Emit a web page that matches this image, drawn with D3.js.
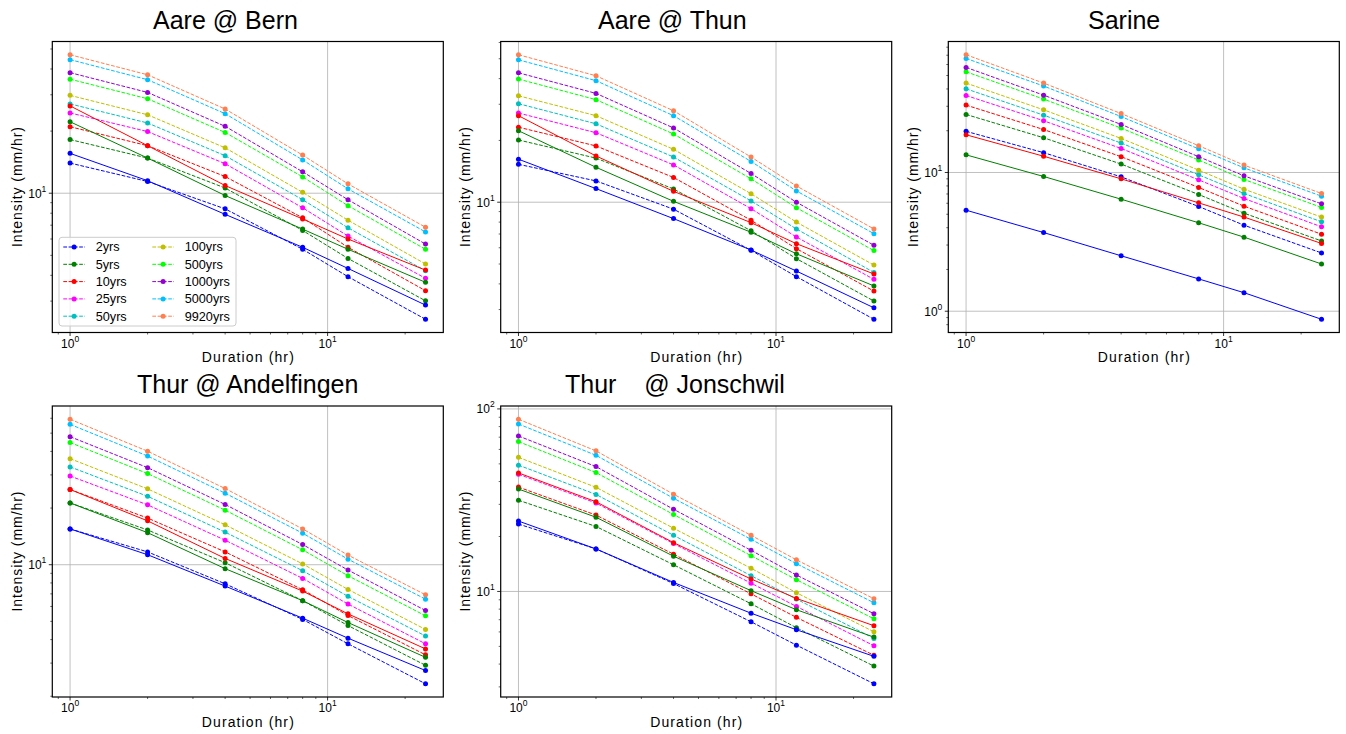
<!DOCTYPE html>
<html><head><meta charset="utf-8">
<script src="https://cdn.jsdelivr.net/npm/d3@7"></script>
<style>
body{margin:0;background:#fff;}
svg{display:block;font-family:"Liberation Sans",Arial,sans-serif;}
</style></head>
<body><svg id="c" width="1346" height="734"></svg>
<script>
const durations = [1, 2, 4, 8, 12, 24];
const returnPeriods = ["2yrs","5yrs","10yrs","25yrs","50yrs","100yrs","500yrs","1000yrs","5000yrs","9920yrs"];
const seriesColors = ["#0000ff","#008000","#ff0000","#ff00ff","#00bfbf","#bfbf00","#00ff00","#9400d3","#00bfff","#ff7f50"];
const solidColors = ["#0000ff","#008000","#ff0000"];
const titles = ["Aare @ Bern","Aare @ Thun","Sarine","Thur @ Andelfingen","Thur    @ Jonschwil"];

const bern = [
  [14.0, 11.4, 8.4, 5.35, 3.94, 2.45],
  [18.2, 14.8, 10.6, 6.6, 4.83, 3.01],
  [21.0, 17.0, 12.05, 7.6, 5.47, 3.37],
  [24.5, 19.9, 13.9, 8.5, 6.2, 3.87],
  [27.1, 21.9, 15.2, 9.3, 6.8, 4.21],
  [29.8, 24.0, 16.6, 10.1, 7.4, 4.54],
  [35.7, 28.7, 19.7, 12.0, 8.7, 5.35],
  [38.4, 30.8, 21.1, 12.7, 9.3, 5.67],
  [44.4, 35.5, 24.3, 14.5, 10.5, 6.49],
  [46.9, 37.5, 25.6, 15.3, 11.1, 6.84]
];
const bernSolid = [
  [15.6, 11.5, 7.9, 5.47, 4.32, 2.87],
  [22.2, 14.8, 9.75, 6.7, 5.35, 3.70],
  [26.5, 17.0, 10.9, 7.5, 6.0, 4.24]
];
const thun = [
  [15.3, 12.7, 9.25, 5.83, 4.34, 2.69],
  [20.1, 16.4, 11.6, 7.26, 5.31, 3.30],
  [23.2, 18.8, 13.2, 8.17, 5.94, 3.69],
  [27.2, 21.8, 15.2, 9.3, 6.77, 4.21],
  [30.2, 24.1, 16.6, 10.15, 7.41, 4.55],
  [33.0, 26.4, 18.1, 11.0, 8.0, 4.94],
  [39.8, 31.6, 21.5, 13.0, 9.4, 5.81],
  [42.7, 33.9, 23.0, 13.8, 10.0, 6.17],
  [49.4, 39.1, 26.4, 15.8, 11.35, 7.03],
  [52.3, 41.3, 27.9, 16.6, 12.0, 7.41]
];
const thunSolid = [
  [16.2, 11.65, 8.32, 5.85, 4.62, 3.06],
  [22.3, 14.8, 10.1, 7.14, 5.61, 3.91],
  [26.4, 16.8, 11.3, 7.95, 6.28, 4.47]
];
const sarine = [
  [19.8, 13.9, 9.3, 5.69, 4.17, 2.63],
  [26.2, 17.8, 11.5, 6.94, 5.09, 3.21],
  [30.6, 20.4, 13.0, 7.8, 5.72, 3.59],
  [35.9, 23.6, 14.9, 8.85, 6.49, 4.06],
  [40.1, 25.9, 16.3, 9.62, 7.06, 4.41],
  [44.1, 28.3, 17.6, 10.4, 7.58, 4.77],
  [53.2, 33.8, 20.9, 12.3, 8.9, 5.6],
  [57.2, 36.1, 22.2, 13.0, 9.46, 5.94],
  [66.4, 42.0, 25.3, 14.8, 10.8, 6.75],
  [70.6, 44.1, 26.6, 15.6, 11.3, 7.06]
];
const sarineSolid = [
  [5.35, 3.69, 2.51, 1.71, 1.36, 0.875],
  [13.4, 9.36, 6.42, 4.34, 3.42, 2.19],
  [18.7, 13.1, 9.0, 6.04, 4.77, 3.08]
];
const andelfingen = [
  [15.5, 11.7, 7.92, 5.12, 3.80, 2.33],
  [21.3, 15.3, 10.25, 6.44, 4.75, 2.92],
  [25.1, 17.7, 11.7, 7.36, 5.37, 3.32],
  [29.6, 20.8, 13.5, 8.46, 6.18, 3.80],
  [33.1, 23.1, 14.9, 9.29, 6.79, 4.18],
  [36.6, 25.3, 16.3, 10.1, 7.39, 4.53],
  [44.6, 30.5, 19.5, 12.0, 8.74, 5.35],
  [47.9, 32.8, 20.9, 12.8, 9.37, 5.71],
  [55.7, 37.8, 24.0, 14.7, 10.7, 6.56],
  [59.3, 40.1, 25.4, 15.5, 11.25, 6.92]
];
const andelfingenSolid = [
  [15.5, 11.3, 7.7, 5.2, 4.07, 2.74],
  [21.3, 14.8, 9.53, 6.44, 4.93, 3.22],
  [25.1, 17.1, 10.8, 7.24, 5.48, 3.57]
];
const jonschwil = [
  [23.4, 17.1, 11.05, 6.82, 5.08, 3.12],
  [31.6, 22.7, 14.0, 8.56, 6.33, 3.90],
  [37.3, 26.2, 16.0, 9.7, 7.21, 4.47],
  [43.9, 30.5, 18.3, 11.1, 8.28, 5.04],
  [49.2, 34.0, 20.3, 12.2, 9.08, 5.53],
  [54.3, 37.2, 22.2, 13.4, 9.84, 6.01],
  [66.2, 44.8, 26.4, 15.7, 11.6, 7.08],
  [71.1, 48.3, 28.2, 16.8, 12.3, 7.55],
  [82.7, 55.7, 32.4, 19.3, 14.2, 8.67],
  [87.8, 58.9, 34.1, 20.3, 14.9, 9.12]
];
const jonschwilSolid = [
  [24.3, 17.1, 11.2, 7.6, 6.17, 4.41],
  [36.4, 25.5, 15.6, 10.1, 7.94, 5.62],
  [44.6, 31.0, 18.5, 11.7, 9.16, 6.49]
];

const svg = d3.select("#c");
const colLeft = [52.3, 500.7, 948.3], rowTop = [41.5, 406];
const PW = 391, PH = 291;
const titleX = [153, 598, 1088, 137, 565];
const panels = [
  {dashed: bern, solid: bernSolid, c:0, r:0, legend:true},
  {dashed: thun, solid: thunSolid, c:1, r:0},
  {dashed: sarine, solid: sarineSolid, c:2, r:0},
  {dashed: andelfingen, solid: andelfingenSolid, c:0, r:1},
  {dashed: jonschwil, solid: jonschwilSolid, c:1, r:1}
];

function logPad(lo, hi){
  const a = Math.log10(lo), b = Math.log10(hi), m = (b - a) * 0.05;
  return [Math.pow(10, a - m), Math.pow(10, b + m)];
}
function powLabel(sel, exp){
  sel.append("tspan").text("10");
  sel.append("tspan").attr("dy", -6).attr("font-size", 8.5).text(exp);
}
function logTicks(dom){
  const major = [], minor = [];
  const lo = Math.floor(Math.log10(dom[0])) , hi = Math.ceil(Math.log10(dom[1]));
  for (let e = lo; e <= hi; e++) {
    for (let k = 1; k < 10; k++) {
      const v = k * Math.pow(10, e);
      if (v < dom[0] || v > dom[1]) continue;
      if (k === 1) major.push({v, e}); else minor.push(v);
    }
  }
  return {major, minor};
}

panels.forEach((p, i) => {
  const x0 = colLeft[p.c], y0 = rowTop[p.r];
  const g = svg.append("g").attr("transform", `translate(${x0},${y0})`);
  const all = p.dashed.flat().concat(p.solid.flat());
  const xDom = logPad(d3.min(durations), d3.max(durations));
  const yDom = logPad(d3.min(all), d3.max(all));
  const xs = d3.scaleLog().domain(xDom).range([0, PW]);
  const ys = d3.scaleLog().domain(yDom).range([PH, 0]);
  const xt = logTicks(xDom), yt = logTicks(yDom);

  g.selectAll(".gx").data(xt.major).enter().append("line")
    .attr("x1", d => xs(d.v)).attr("x2", d => xs(d.v)).attr("y1", 0).attr("y2", PH)
    .attr("stroke", "#b0b0b0").attr("stroke-width", 0.8);
  g.selectAll(".gy").data(yt.major).enter().append("line")
    .attr("y1", d => ys(d.v)).attr("y2", d => ys(d.v)).attr("x1", 0).attr("x2", PW)
    .attr("stroke", "#b0b0b0").attr("stroke-width", 0.8);

  const line = d3.line().x((d, j) => xs(durations[j])).y(d => ys(d));
  const clip = "clip" + i;
  g.append("clipPath").attr("id", clip).append("rect").attr("width", PW).attr("height", PH);
  const dg = g.append("g").attr("clip-path", `url(#${clip})`);

  p.dashed.forEach((row, k) => {
    dg.append("path").attr("d", line(row)).attr("fill", "none")
      .attr("stroke", seriesColors[k]).attr("stroke-width", 1).attr("stroke-dasharray", "3.7,1.6");
    dg.selectAll(null).data(row).enter().append("circle")
      .attr("cx", (d, j) => xs(durations[j])).attr("cy", d => ys(d)).attr("r", 2.5)
      .attr("fill", seriesColors[k]);
  });
  p.solid.forEach((row, k) => {
    dg.append("path").attr("d", line(row)).attr("fill", "none")
      .attr("stroke", solidColors[k]).attr("stroke-width", 1);
    dg.selectAll(null).data(row).enter().append("circle")
      .attr("cx", (d, j) => xs(durations[j])).attr("cy", d => ys(d)).attr("r", 2.5)
      .attr("fill", solidColors[k]);
  });

  g.append("rect").attr("width", PW).attr("height", PH).attr("fill", "none")
    .attr("stroke", "#000").attr("stroke-width", 1.2);

  g.selectAll(".txM").data(xt.major).enter().append("line")
    .attr("x1", d => xs(d.v)).attr("x2", d => xs(d.v)).attr("y1", PH).attr("y2", PH + 3.5)
    .attr("stroke", "#000").attr("stroke-width", 0.8);
  g.selectAll(".txm").data(xt.minor).enter().append("line")
    .attr("x1", d => xs(d)).attr("x2", d => xs(d)).attr("y1", PH).attr("y2", PH + 2)
    .attr("stroke", "#000").attr("stroke-width", 0.6);
  g.selectAll(".tyM").data(yt.major).enter().append("line")
    .attr("y1", d => ys(d.v)).attr("y2", d => ys(d.v)).attr("x1", 0).attr("x2", -3.5)
    .attr("stroke", "#000").attr("stroke-width", 0.8);
  g.selectAll(".tym").data(yt.minor).enter().append("line")
    .attr("y1", d => ys(d)).attr("y2", d => ys(d)).attr("x1", 0).attr("x2", -2)
    .attr("stroke", "#000").attr("stroke-width", 0.6);

  xt.major.forEach(d => {
    const t = g.append("text").attr("x", xs(d.v)).attr("y", PH + 15)
      .attr("text-anchor", "middle").attr("font-size", 12).attr("fill", "#000");
    powLabel(t, d.e);
  });
  yt.major.forEach(d => {
    const t = g.append("text").attr("x", -6).attr("y", ys(d.v) + 4.5)
      .attr("text-anchor", "end").attr("font-size", 12).attr("fill", "#000");
    powLabel(t, d.e);
  });

  g.append("text").attr("x", PW / 2).attr("y", PH + 29.5).attr("text-anchor", "middle")
    .attr("font-size", 14).attr("textLength", 92).attr("lengthAdjust", "spacing")
    .text("Duration (hr)");
  g.append("text").attr("transform", `translate(-30.8,${PH / 2}) rotate(-90)`)
    .attr("text-anchor", "middle").attr("font-size", 14).attr("textLength", 120).attr("lengthAdjust", "spacing")
    .text("Intensity (mm/hr)");

  svg.append("text").attr("x", titleX[i]).attr("y", y0 - 13)
    .attr("font-size", 25).attr("fill", "#000").style("white-space", "pre")
    .attr("xml:space", "preserve").text(titles[i]);

  if (p.legend) {
    const lg = g.append("g").attr("transform", `translate(${59 - x0},${237.3 - y0})`);
    lg.append("rect").attr("width", 177).attr("height", 88.7).attr("rx", 3)
      .attr("fill", "#fff").attr("fill-opacity", 0.8).attr("stroke", "#cccccc").attr("stroke-width", 1);
    returnPeriods.forEach((name, k) => {
      const col = Math.floor(k / 5), row = k % 5;
      const lx = 4.3 + col * 89, ly = 9.7 + row * 17.3;
      lg.append("line").attr("x1", lx).attr("x2", lx + 21.7).attr("y1", ly).attr("y2", ly)
        .attr("stroke", seriesColors[k]).attr("stroke-width", 1).attr("stroke-dasharray", "3.7,1.6");
      lg.append("circle").attr("cx", lx + 10.8).attr("cy", ly).attr("r", 2.5).attr("fill", seriesColors[k]);
      lg.append("text").attr("x", lx + 32.4).attr("y", ly + 4.4).attr("font-size", 12.7).attr("fill", "#000").text(name);
    });
  }
});
</script></body></html>
